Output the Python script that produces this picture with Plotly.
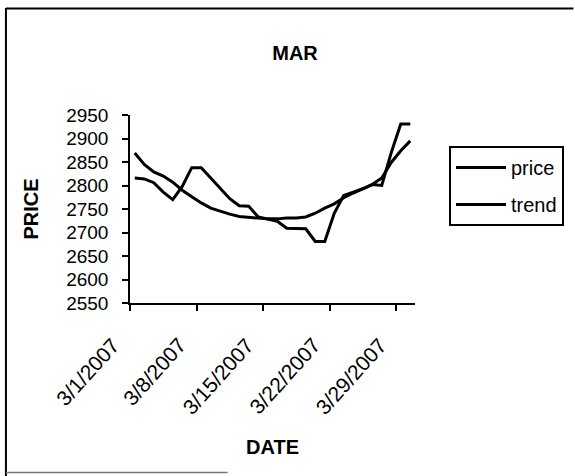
import plotly.graph_objects as go

# March 2007 daily closing prices and the fitted trend
dates = [f"2007-03-{d:02d}" for d in range(1, 31)]
price = [2816, 2814, 2806, 2786, 2770, 2798, 2838, 2838, 2816, 2794,
         2772, 2757, 2756, 2733, 2729, 2724, 2709, 2709, 2708, 2681,
         2681, 2741, 2779, 2786, 2793, 2802, 2800, 2870, 2931, 2931]
trend = [2869, 2845, 2829, 2820, 2807, 2790, 2776, 2763, 2752, 2745,
         2739, 2734, 2732, 2731, 2729, 2729, 2731, 2731, 2733, 2741,
         2752, 2761, 2774, 2784, 2793, 2802, 2816, 2849, 2874, 2895]
tick_dates = ["2007-03-01", "2007-03-08", "2007-03-15", "2007-03-22", "2007-03-29"]
tick_text = ["3/1/2007", "3/8/2007", "3/15/2007", "3/22/2007", "3/29/2007"]
y_ticks = [2550, 2600, 2650, 2700, 2750, 2800, 2850, 2900, 2950]

W, H = 575, 476
L, R, T, B = 130, 159, 115, 173
PW, PH = W - L - R, H - T - B


def px(x):
    return (x - L) / PW


def py(y):
    return (H - B - y) / PH


FONT = "Liberation Sans, Arial, sans-serif"

fig = go.Figure()
common = dict(mode="lines", xperiod=86400000, xperiodalignment="middle")
fig.add_trace(go.Scatter(x=dates, y=price, name="price", legendgroup="p",
                         line=dict(color="black", width=3), **common))
fig.add_trace(go.Scatter(x=dates, y=trend, name="trend", legendgroup="t",
                         line=dict(color="black", width=3), **common))

fig.update_layout(
    width=W, height=H,
    margin=dict(l=L, r=R, t=T, b=B),
    paper_bgcolor="white", plot_bgcolor="white",
    font=dict(family=FONT, color="black", size=19),
    title=dict(text="<b>MAR</b>", x=295 / W, xref="container", xanchor="center",
               y=1 - 53 / H, yref="container", yanchor="middle",
               font=dict(family=FONT, size=20, color="black")),
    showlegend=True,
    legend=dict(x=px(449), y=py(146), xanchor="left", yanchor="top",
                bordercolor="black", borderwidth=2, bgcolor="white",
                font=dict(family=FONT, size=20, color="black"),
                itemwidth=50, tracegroupgap=8),
)

fig.update_xaxes(
    type="date", range=["2007-03-01", "2007-03-31"],
    tickvals=tick_dates, showticklabels=False,
    ticks="outside", ticklen=6, tickwidth=1.5, tickcolor="black",
    showline=True, linecolor="black", linewidth=1.5,
    showgrid=False, zeroline=False,
    title=dict(text="<b>DATE</b>", standoff=130,
               font=dict(family=FONT, size=20, color="black")),
)
fig.update_yaxes(
    range=[2550, 2950], tickvals=y_ticks,
    ticks="outside", ticklen=6, tickwidth=1.5, tickcolor="black",
    ticklabelstandoff=10,
    showline=True, linecolor="black", linewidth=1.5,
    showgrid=False, zeroline=False,
    tickfont=dict(family=FONT, size=19, color="black"),
    title=dict(text="<b>PRICE</b>", standoff=22,
               font=dict(family=FONT, size=20, color="black")),
)

# slanted date labels, each hung just below and left of its tick
for d, txt in zip(tick_dates, tick_text):
    fig.add_annotation(x=d, y=0, xref="x", yref="paper", text=txt,
                       textangle=-48, showarrow=False,
                       xanchor="right", yanchor="top", xshift=-3, yshift=-28,
                       font=dict(family=FONT, size=21, color="black"))

# chart-area frame: left edge, top edge, and the visible part of the bottom edge
fig.add_shape(type="line", xref="paper", yref="paper",
              x0=px(5.5), x1=px(5.5), y0=py(8), y1=py(476),
              line=dict(color="black", width=2))
fig.add_shape(type="line", xref="paper", yref="paper",
              x0=px(5.5), x1=px(575), y0=py(8.5), y1=py(8.5),
              line=dict(color="black", width=2))
fig.add_shape(type="line", xref="paper", yref="paper",
              x0=px(5.5), x1=px(228), y0=py(472.5), y1=py(472.5),
              line=dict(color="#777777", width=1.5))

fig.write_html("out.html")
